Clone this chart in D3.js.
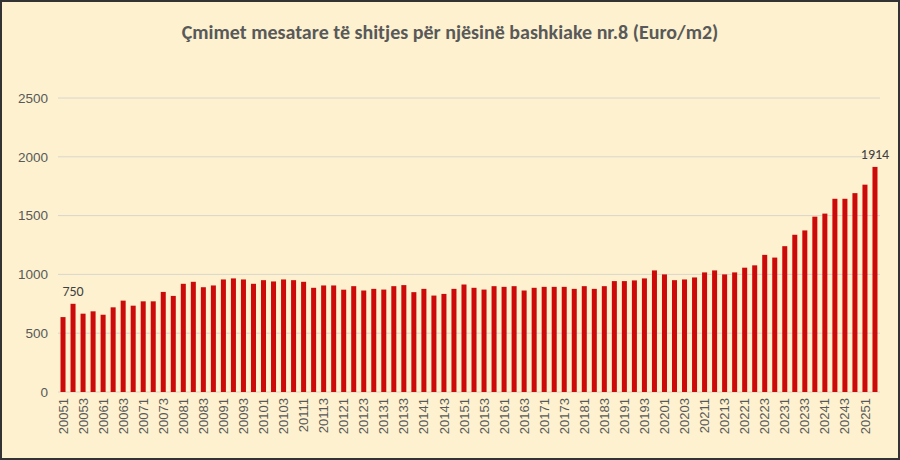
<!DOCTYPE html>
<html>
<head>
<meta charset="utf-8">
<script src="https://cdn.jsdelivr.net/npm/d3@7"></script>
<style>
  body { margin: 0; background: #fff; }
  svg { display: block; font-family: Calibri, Carlito, "Open Sans", sans-serif; }
</style>
</head>
<body>
<div id="chart"></div>
<script>
const years = d3.range(2005, 2026);
const quarters = [1, 2, 3, 4];
// quarterly prices, 2005 Q1 .. 2025 Q2
const prices = [
  637, 750, 666, 686,  657, 720, 777, 734,  771, 771, 851, 817,
  920, 937, 891, 906,  957, 966, 957, 920,  951, 940, 957, 951,
  937, 886, 906, 906,  870, 900, 863, 877,  871, 900, 909, 849,
  877, 820, 834, 877,  914, 886, 871, 900,  894, 900, 863, 886,
  894, 894, 894, 877,  900, 877, 900, 943,  943, 949, 966, 1034,
  1000, 951, 957, 974,  1017, 1034, 1000, 1017,  1057, 1077, 1166, 1143,
  1240, 1337, 1374, 1491,  1517, 1643, 1643, 1691,  1763, 1914
];
const periods = [];
years.forEach(y => quarters.forEach(q => periods.push(y + "" + q)));
periods.length = prices.length;
const yTicks = [0, 500, 1000, 1500, 2000, 2500];
const labelled = ["20052", "20252"];

const W = 900, H = 460;
const margin = {top: 98, right: 20, bottom: 68, left: 58};

const svg = d3.select("#chart").append("svg")
    .attr("width", W).attr("height", H);

svg.append("rect")
    .attr("x", 1).attr("y", 1).attr("width", W - 2).attr("height", H - 2)
    .attr("fill", "#fdf1cf").attr("stroke", "#333").attr("stroke-width", 2);

const x = d3.scaleBand().domain(periods)
    .range([margin.left, W - margin.right]).paddingInner(0.5).paddingOuter(0.25);
const y = d3.scaleLinear().domain([0, 2500]).range([H - margin.bottom, margin.top]);

// grid
svg.append("g").selectAll("line")
  .data(yTicks)
  .enter().append("line")
    .attr("x1", margin.left).attr("x2", W - margin.right)
    .attr("y1", d => y(d)).attr("y2", d => y(d))
    .attr("stroke", "#d9d6cc").attr("stroke-width", 1);

// y axis labels
const yAxis = svg.append("g")
    .attr("transform", "translate(" + (margin.left - 10) + ",0)")
    .call(d3.axisLeft(y).tickValues(yTicks).tickFormat(d3.format("d")).tickSize(0).tickPadding(0));
yAxis.select(".domain").remove();
yAxis.selectAll("text").attr("fill", "#595959").style("font-size", "13.5px");

// bars
svg.append("g").selectAll("rect")
  .data(prices)
  .enter().append("rect")
    .attr("x", (d, i) => x(periods[i]))
    .attr("width", x.bandwidth())
    .attr("y", d => y(d))
    .attr("height", d => y(0) - y(d))
    .attr("fill", "#cc0a0a");

// x labels, every other quarter
const xAxis = svg.append("g")
    .attr("transform", "translate(0," + y(0) + ")")
    .call(d3.axisBottom(x)
      .tickValues(periods.filter((p, i) => i % 2 === 0))
      .tickSize(0).tickPadding(0));
xAxis.select(".domain").remove();
xAxis.selectAll("text")
    .attr("transform", "rotate(-90)")
    .attr("x", -6).attr("y", 0).attr("dy", "0.35em")
    .style("text-anchor", "end")
    .style("font-size", "13px")
    .attr("fill", "#595959");

// data labels
svg.append("g").selectAll("text")
  .data(labelled)
  .enter().append("text")
    .attr("x", p => x(p) + x.bandwidth() / 2)
    .attr("y", p => y(prices[periods.indexOf(p)]) - 8)
    .attr("text-anchor", "middle")
    .attr("fill", "#404040")
    .style("font-size", "14px")
    .text(p => prices[periods.indexOf(p)]);

svg.append("text")
    .attr("x", W / 2).attr("y", 39)
    .attr("text-anchor", "middle")
    .attr("fill", "#595959")
    .style("font-size", "20px").style("font-weight", "bold")
    .text("Çmimet mesatare të shitjes për njësinë bashkiake nr.8 (Euro/m2)");
</script>
</body>
</html>
